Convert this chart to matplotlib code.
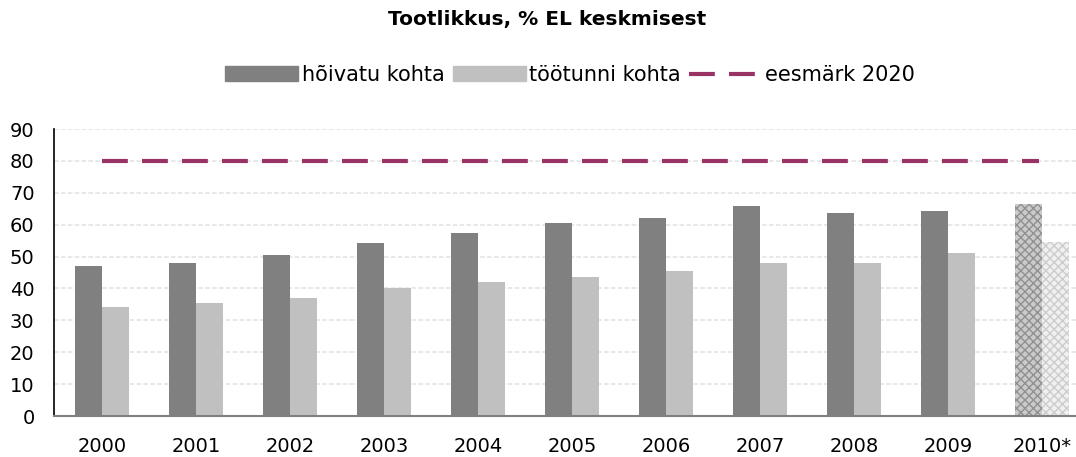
import numpy as np
import matplotlib
matplotlib.use('Agg')
import matplotlib.pyplot as plt
from matplotlib.patches import Patch
from matplotlib.lines import Line2D

plt.rcParams['font.family'] = ['DejaVu Sans']

# Data
years = ['2000', '2001', '2002', '2003', '2004', '2005', '2006', '2007', '2008', '2009', '2010*']
per_employed = [47.0, 48.0, 50.5, 54.2, 57.4, 60.5, 62.1, 65.8, 63.6, 64.3, 66.5]
per_hour = [34.2, 35.4, 37.0, 40.1, 42.0, 43.6, 45.5, 48.0, 48.0, 51.1, 54.5]
target_2020 = 80
forecast_from = 10  # index of the 2010* estimate

DARK = '#808080'
LIGHT = '#c0c0c0'
TARGET = '#993366'
DASH = (6.2, 3.4)

fig = plt.figure(figsize=(10.76, 4.57), dpi=100)
ax = fig.add_axes([54 / 1076, 1 - 416 / 457, 1 - 54 / 1076, (416 - 129) / 457])

x = np.arange(len(years))
w = 0.285

for i in x:
    if i < forecast_from:
        ax.bar(i - w / 2, per_employed[i], w, color=DARK, zorder=3)
        ax.bar(i + w / 2, per_hour[i], w, color=LIGHT, zorder=3)
    else:
        # estimate shown with a hatched fill
        ax.bar(i - w / 2, per_employed[i], w, facecolor='#cacaca', edgecolor='#909090',
               hatch='xxxx', linewidth=0, zorder=3)
        ax.bar(i + w / 2, per_hour[i], w, facecolor='#f0f0f0', edgecolor='#cccccc',
               hatch='xxxx', linewidth=0, zorder=3)

ax.plot([x[0], x[-1] - 0.03], [target_2020, target_2020], color=TARGET, linewidth=3,
        dashes=DASH, zorder=4, dash_capstyle='butt')

ax.set_ylim(0, 90)
ax.set_yticks(range(0, 91, 10))
ax.set_xlim(-48 / 94, (1076 - 102) / 94)
ax.set_xticks(x)
ax.set_xticklabels(years)
ax.tick_params(axis='y', length=0, pad=14, labelsize=14)
ax.tick_params(axis='x', length=0, pad=15, labelsize=14)

ax.yaxis.grid(True, color='#e2e2e2', linestyle=(0, (3, 1.5)), linewidth=1.1, zorder=0)
ax.set_axisbelow(True)
for side in ['top', 'right']:
    ax.spines[side].set_visible(False)
ax.spines['left'].set_color('black')
ax.spines['left'].set_linewidth(1.2)
ax.spines['bottom'].set_color('#808080')
ax.spines['bottom'].set_linewidth(1.5)
ax.spines['bottom'].set_zorder(5)

fig.text(547 / 1076, 1 - 19 / 457, 'Tootlikkus, % EL keskmisest', ha='center', va='center',
         fontsize=14.5, fontweight='bold')

handles = [
    Patch(color=DARK),
    Patch(color=LIGHT),
    Line2D([0], [0], color=TARGET, linewidth=3, dashes=DASH),
]
labels = ['hõivatu kohta', 'töötunni kohta', 'eesmärk 2020']
fig.legend(handles, labels, loc='center', bbox_to_anchor=(570 / 1076, 1 - 75 / 457), ncol=3,
           frameon=False, fontsize=15, handlelength=3.5, handleheight=0.7,
           handletextpad=0.15, columnspacing=0.4)

fig.savefig('out.png', dpi=100)
